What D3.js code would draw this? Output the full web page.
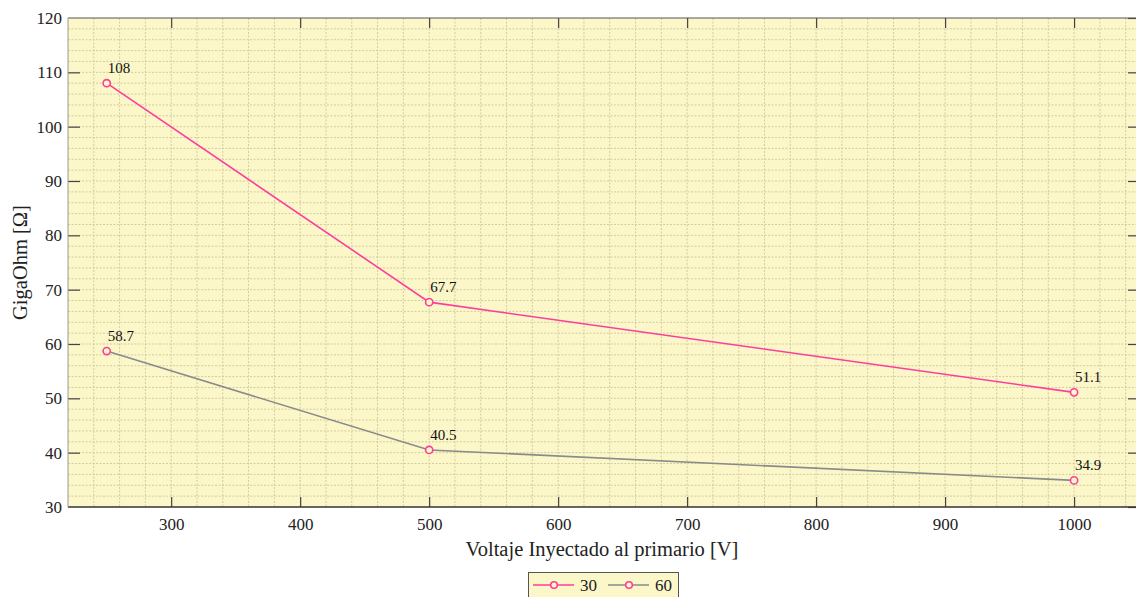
<!DOCTYPE html>
<html><head><meta charset="utf-8">
<script src="https://cdn.jsdelivr.net/npm/d3@7"></script>
<style>html,body{margin:0;padding:0;background:#fff;}svg{display:block;} svg text{font-family:"Liberation Serif","Times New Roman",serif !important;}</style>
</head><body>
<svg id="c" width="1136" height="597"></svg>
<script>
const xValues = [250, 500, 1000];
const series30 = [108, 67.7, 51.1];
const series60 = [58.7, 40.5, 34.9];
const seriesNames = ["30", "60"];
const xTicks = [300, 400, 500, 600, 700, 800, 900, 1000];
const yTicks = [30, 40, 50, 60, 70, 80, 90, 100, 110, 120];

const svg = d3.select("#c");
const L = 68, R = 1136, T = 18, B = 507;
const x = d3.scaleLinear().domain([220, 1048]).range([L, R]);
const y = d3.scaleLinear().domain([30, 120]).range([B, T]);

const bg = "#fcf7c9";
svg.append("rect").attr("x", L).attr("y", T).attr("width", R - L).attr("height", B - T).attr("fill", bg);

// grid
const g = svg.append("g");
d3.range(240, 1048, 20).forEach(v => {
  g.append("line").attr("x1", x(v)).attr("x2", x(v)).attr("y1", T).attr("y2", B)
   .attr("stroke", "#d2cca0").attr("stroke-width", 1).attr("stroke-dasharray", "2,1.5");
});
d3.range(32, 120, 2).forEach(v => {
  g.append("line").attr("x1", L).attr("x2", R).attr("y1", y(v)).attr("y2", y(v))
   .attr("stroke", "#d2cca0").attr("stroke-width", 1).attr("stroke-dasharray", "2,1.5");
});

// axes
const fmt = d3.format("d");
const xAxisB = d3.axisBottom(x).tickValues(xTicks).tickSize(-10).tickPadding(11).tickFormat(fmt);
const xAxisT = d3.axisTop(x).tickValues(xTicks).tickSize(-10).tickFormat("");
const yAxisL = d3.axisLeft(y).tickValues(yTicks).tickSize(-12).tickPadding(6).tickFormat(fmt);
const yAxisR = d3.axisRight(y).tickValues(yTicks).tickSize(-8).tickFormat("");

function style(sel) {
  sel.select(".domain").remove();
  sel.attr("font-family", null).attr("font-size", null);
  sel.selectAll(".tick line").attr("stroke", "#444").attr("stroke-width", 1.2);
  sel.selectAll(".tick text").attr("fill", "#222").style("font-size", "17px");
}
svg.append("g").attr("transform", `translate(0,${B})`).call(xAxisB).call(style);
svg.append("g").attr("transform", `translate(0,${T})`).call(xAxisT).call(style);
const yl = svg.append("g").attr("transform", `translate(${L},0)`).call(yAxisL).call(style);
yl.selectAll(".tick").filter(d => d === 30 || d === 120).select("line").remove();
yl.selectAll(".tick text").attr("x", -6);
svg.append("g").attr("transform", `translate(${R},0)`).call(yAxisR).call(style);

// borders
svg.append("line").attr("x1", L).attr("x2", R).attr("y1", B).attr("y2", B).attr("stroke", "#333").attr("stroke-width", 1.5);
svg.append("line").attr("x1", L).attr("x2", R).attr("y1", T).attr("y2", T).attr("stroke", "#555").attr("stroke-width", 1);
svg.append("line").attr("x1", L).attr("x2", L).attr("y1", T).attr("y2", B).attr("stroke", "#9a9a9a").attr("stroke-width", 1);

// labels
svg.append("text").attr("x", 602).attr("y", 556).attr("text-anchor", "middle")
   .style("font-size", "20.5px").attr("fill", "#222").text("Voltaje Inyectado al primario [V]");
svg.append("text").attr("transform", `translate(27,${(T + B) / 2}) rotate(-90)`).attr("text-anchor", "middle")
   .style("font-size", "20.5px").attr("fill", "#222").text("GigaOhm [Ω]");

// series
const pink = "#ff3d9a", gray = "#8a8a8a";
const data = [
  { name: seriesNames[0], vals: series30, color: pink },
  { name: seriesNames[1], vals: series60, color: gray }
];
const line = d3.line().x(d => x(d[0])).y(d => y(d[1]));
data.forEach(s => {
  const pts = xValues.map((v, i) => [v, s.vals[i]]);
  svg.append("path").attr("d", line(pts)).attr("fill", "none").attr("stroke", s.color).attr("stroke-width", 1.6);
  pts.forEach(p => {
    svg.append("circle").attr("cx", x(p[0])).attr("cy", y(p[1])).attr("r", 3.6)
       .attr("fill", bg).attr("stroke", pink).attr("stroke-width", 1.6);
    svg.append("text").attr("x", x(p[0]) + 1).attr("y", y(p[1]) - 10)
       .style("font-size", "15px").attr("fill", "#111").text(String(p[1]));
  });
});

// legend
const lg = svg.append("g");
lg.append("rect").attr("x", 528.5).attr("y", 572.5).attr("width", 150).attr("height", 30)
  .attr("fill", bg).attr("stroke", "#555").attr("stroke-width", 1);
data.forEach((s, i) => {
  const x0 = 533 + i * 75, yy = 585;
  lg.append("line").attr("x1", x0).attr("x2", x0 + 41).attr("y1", yy).attr("y2", yy).attr("stroke", s.color).attr("stroke-width", 1.6);
  lg.append("circle").attr("cx", x0 + 21).attr("cy", yy).attr("r", 3.3).attr("fill", bg).attr("stroke", pink).attr("stroke-width", 1.6);
  lg.append("text").attr("x", x0 + 47).attr("y", yy + 5.5).style("font-size", "17px").attr("fill", "#222").text(s.name);
});
</script>
</body></html>
